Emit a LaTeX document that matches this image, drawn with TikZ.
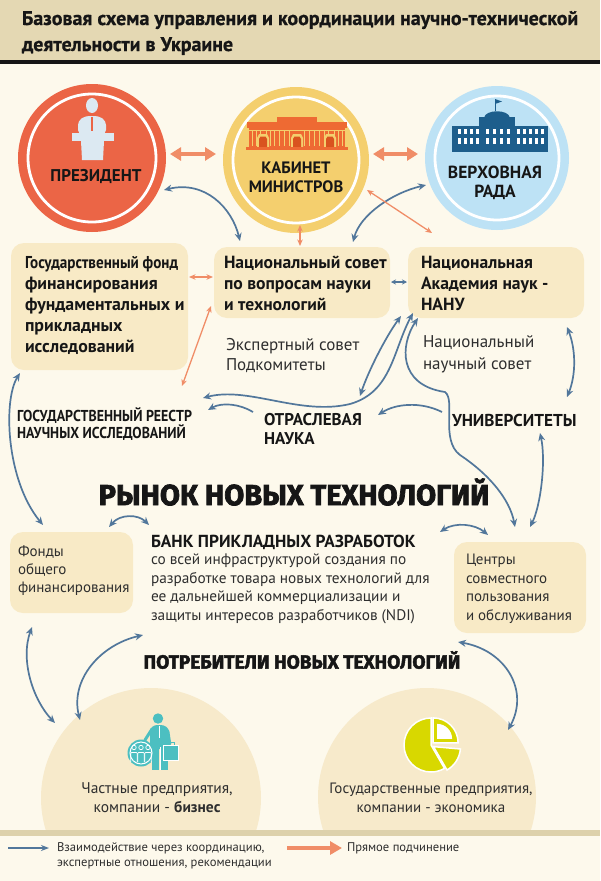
\documentclass[tikz,border=0pt]{standalone}
\usepackage{fontspec}
\setmainfont{PT Sans}
\newfontfamily\cond[FakeStretch=0.88]{PT Sans}
\newfontfamily\heavy[BoldFeatures={FakeBold=2.5}]{Fira Sans}
\newfontfamily\ptheavy[BoldFeatures={FakeBold=0.8}]{PT Sans}
\usetikzlibrary{arrows.meta}
\newcommand\myfs[2]{\fontsize{#1}{#2}\selectfont}
\definecolor{bg}{HTML}{FDF9EC}
\definecolor{hdr}{HTML}{E4D8B3}
\definecolor{boxc}{HTML}{F8EAC6}
\definecolor{pres}{HTML}{EB6546}
\definecolor{cab}{HTML}{F4CF6E}
\definecolor{rada}{HTML}{BDE2F5}
\definecolor{oarr}{HTML}{F08D67}
\definecolor{barr}{HTML}{52779B}
\definecolor{cabic}{HTML}{EE6A33}
\definecolor{cabdk}{HTML}{D9531F}
\definecolor{radic}{HTML}{1D5E8C}
\definecolor{presic}{HTML}{DCE9F2}
\definecolor{tealc}{HTML}{4CBFC1}
\definecolor{piec}{HTML}{D8D800}
\definecolor{botc}{HTML}{F7EACB}
\definecolor{barc}{HTML}{DDD1AB}
\definecolor{ink}{HTML}{161616}
\definecolor{gink}{HTML}{2E2E2E}
\begin{document}
\begin{tikzpicture}[x=1pt,y=-1pt,
  txt/.style={inner sep=0pt,outer sep=0pt,align=left,anchor=north west,text=ink},
  boxr/.style={fill=boxc,rounded corners=13pt},
  bl/.style={draw=barr,line width=1.7pt,arrows={Stealth[length=8pt,width=7pt]-Stealth[length=8pt,width=7pt]}},
  bls/.style={draw=barr,line width=1.3pt,arrows={Stealth[length=5pt,width=5pt]-Stealth[length=5pt,width=5pt]}},
  bl1/.style={draw=barr,line width=1.7pt,arrows={-Stealth[length=8pt,width=7pt]}},
  ot/.style={draw=oarr,line width=1.3pt,arrows={Stealth[length=6.5pt,width=5.5pt]-Stealth[length=6.5pt,width=5.5pt]}},
  ok/.style={draw=oarr,line width=4pt,arrows={Triangle[length=11pt,width=13pt]-Triangle[length=11pt,width=13pt]}},
  ok1/.style={draw=oarr,line width=3.8pt,arrows={-Triangle[length=12pt,width=13pt]}},
  ring/.style={draw=white,line width=2.8pt},
  clab/.style={inner sep=0pt,align=center,text=ink}
]
\useasboundingbox (0,0) rectangle (600,881);
\fill[bg] (0,0) rectangle (600,881);
% header
\fill[hdr] (0,0) rectangle (600,60);
\fill[ink] (0,60) rectangle (600,63.5);
\node[txt,font=\ptheavy\bfseries\myfs{19.9}{26}] (title) at (22,11) {Базовая схема управления и координации научно-технической\\деятельности в Украине};

% top circles
\node[circle,fill=pres,minimum size=148pt,inner sep=0pt] (pres) at (92,158) {};
\draw[ring] (pres.center) circle[radius=64];
\node[circle,fill=cab,minimum size=146pt,inner sep=0pt] (cab) at (296,160) {};
\draw[ring] (cab.center) circle[radius=63];
\node[circle,fill=rada,minimum size=144pt,inner sep=0pt] (rada) at (497,158) {};
\draw[ring] (rada.center) circle[radius=62];

% president icon
\fill[presic] (92,105.5) ellipse[x radius=6, y radius=7.5];
\fill[presic,rounded corners=4pt] (78,134) -- (78,121) -- (85,116) -- (99,116) -- (106,121) -- (106,134) -- cycle;
\draw[pres,line width=1.2pt] (92,117) -- (92,131);
\fill[presic] (72,133) rectangle (114,141);
\fill[presic] (81,141) -- (104,141) -- (103,160) -- (82,160) -- cycle;

% cabinet icon
\fill[cabic] (277,117) rectangle (317,123);
\fill[cabic] (247,122) rectangle (347,128);
\fill[cabic] (249,128) rectangle (345,148);
\foreach \xx in {252,256,260,266,270,274,279,284,289,304,309,314,319,324,328,334,338,342}{
  \draw[cab,line width=0.9pt] (\xx,130) -- (\xx,146);}
\foreach \xx in {263,297,330}{
  \fill[cab] (\xx-6,148) -- (\xx-6,138) -- (\xx-4,134) -- (\xx+4,134) -- (\xx+6,138) -- (\xx+6,148) -- cycle;
  \fill[cabdk] (\xx-4,148) -- (\xx-4,139) -- (\xx-2.5,136.5) -- (\xx+2.5,136.5) -- (\xx+4,139) -- (\xx+4,148) -- cycle;}
\draw[cab,line width=0.8pt] (249,130) -- (345,130);
\fill[cabic] (246,147) rectangle (348,149.5);

% rada icon
\fill[radic] (452,126) rectangle (548,152);
\fill[radic] (479,117) rectangle (515,126);
\fill[radic] (484,118) .. controls (485,109) and (509,109) .. (510,118) -- cycle;
\draw[radic,line width=0.9pt] (495,111) -- (495,99);
\fill[radic] (495,99) -- (502,101.5) -- (495,104) -- cycle;
\foreach \xx in {458,464,470,476,486,493,500,507,517,523,529,535,541}{
  \fill[white] (\xx,129) rectangle ++(2.6,5);
  \fill[white] (\xx,138) rectangle ++(2.6,5.5);}

% circle labels
\node[clab,font=\bfseries\myfs{17}{19}] (presl) at (96,177) {ПРЕЗИДЕНТ};
\node[clab,font=\bfseries\myfs{16.5}{19}] (cabl) at (296,177) {КАБИНЕТ\\МИНИСТРОВ};
\node[clab,font=\bfseries\myfs{17.5}{19}] (radal) at (495,183) {ВЕРХОВНАЯ\\РАДА};

% boxes
\fill[boxr] (11,243) rectangle (188,370);
\fill[boxr] (214,247) rectangle (390,318);
\fill[boxr] (408,247) rectangle (584,318);
\fill[boxr] (10,532) rectangle (133,613);
\fill[boxr] (454,542) rectangle (586,633);

\node[txt,font=\bfseries\myfs{17.8}{21}] (fond) at (25,256) {{\cond\myfs{17.2}{21}Государственный фонд}\\финансирования\\фундаментальных и\\прикладных\\исследований};
\node[txt,font=\bfseries\myfs{17.6}{21}] (nsov) at (224,256) {Национальный совет\\по вопросам науки\\и технологий};
\node[txt,font=\bfseries\myfs{17.6}{21}] (nanu) at (421,256) {Национальная\\Академия наук -\\НАНУ};
\node[txt,text=gink,font=\myfs{17}{20}] (eksp) at (226,338) {Экспертный совет\\Подкомитеты};
\node[txt,text=gink,font=\myfs{17}{21.5}] (nnsov) at (423,336) {Национальный\\научный совет};
\node[txt,font=\cond\bfseries\myfs{15.8}{17.5}] (reestr) at (17,407.5) {ГОСУДАРСТВЕННЫЙ РЕЕСТР\\НАУЧНЫХ ИССЛЕДОВАНИЙ};
\node[txt,font=\bfseries\myfs{17}{18.5}] (otr) at (264,413.5) {ОТРАСЛЕВАЯ\\НАУКА};
\node[txt,anchor=west,font=\bfseries\myfs{17.2}{18}] (univ) at (452,420) {УНИВЕРСИТЕТЫ};

\node[inner sep=0pt,text=ink,font=\heavy\bfseries\myfs{29}{30}] (rynok) at (294,492) {РЫНОК НОВЫХ ТЕХНОЛОГИЙ};
\node[txt,anchor=west,font=\bfseries\myfs{17.4}{20}] (bank) at (151,542) {БАНК ПРИКЛАДНЫХ РАЗРАБОТОК};
\node[txt,text=gink,font=\myfs{15.3}{18.5}] (bankt) at (151,554) {со всей инфраструктурой создания по\\разработке товара новых технологий для\\ее дальнейшей коммерциализации и\\защиты интересов разработчиков (NDI)};
\node[txt,text=gink,font=\myfs{15}{18}] (fondy) at (18,546) {Фонды\\общего\\финансирования};
\node[txt,text=gink,font=\myfs{15}{18.5}] (centr) at (466,554) {Центры\\совместного\\пользования\\и обслуживания};
\node[inner sep=0pt,text=ink,font=\heavy\bfseries\myfs{19}{20}] (potr) at (302,660) {ПОТРЕБИТЕЛИ НОВЫХ ТЕХНОЛОГИЙ};

% bottom circles
\begin{scope}
\clip (0,0) rectangle (600,831);
\node[circle,fill=botc,minimum size=220pt,inner sep=0pt] (priv) at (151,798) {};
\node[circle,fill=botc,minimum size=218pt,inner sep=0pt] (gosp) at (427,797) {};
\end{scope}
\fill[barc] (0,830) rectangle (600,836);

% businessman icon
\fill[tealc] (158,718.5) circle[radius=5.2];
\fill[tealc,rounded corners=3pt] (150,749) -- (150,729) -- (154,725) -- (164,725) -- (169,729) -- (170,749) -- cycle;
\fill[tealc] (152,747) rectangle (159,770);
\fill[tealc] (161,747) rectangle (168,770);
\draw[white,line width=0.7pt] (160,747) -- (160,770);
\draw[white,line width=0.8pt] (159.5,726) -- (159.5,738);
\draw[tealc,line width=3pt,line cap=round] (152,729) -- (145,740);
\draw[tealc,line width=2.6pt,line cap=round] (168,731) -- (170,744);
\fill[tealc] (163,745) rectangle (178.5,760.5);
\draw[white,line width=0.7pt] (163.6,745.6) rectangle (177.9,759.9);
\draw[tealc,line width=1pt] (168,745) -- (168,742) -- (174,742) -- (174,745);
\fill[tealc] (141,753) circle[radius=13.5];
\draw[white,line width=1pt] (141,753) circle[radius=11];
\foreach \px in {134,141,148}{
  \draw[white,line width=0.7pt] (\px,747.5) circle[radius=2.2];
  \draw[white,line width=0.7pt,rounded corners=1pt] (\px-3.3,762) -- (\px-3.3,752.5) -- (\px+3.3,752.5) -- (\px+3.3,762);}

% pie icon
\begin{scope}[shift={(431,745)},y=1pt]
  \filldraw[fill=piec,draw=white,line width=1.5pt] (0,0) -- (90:27) arc[start angle=90,end angle=300,radius=27] -- cycle;
  \begin{scope}[shift={(327:3)}]
    \filldraw[fill=piec,draw=white,line width=1.5pt] (0,0) -- (300:27) arc[start angle=300,end angle=355,radius=27] -- cycle;
  \end{scope}
  \begin{scope}[shift={(45:3)}]
    \filldraw[fill=piec,draw=white,line width=1.5pt] (0,0) -- (0:25) arc[start angle=0,end angle=90,radius=25] -- cycle;
    \fill[white] (4,4) -- ++(0:15) arc[start angle=0,end angle=90,radius=15] -- cycle;
  \end{scope}
\end{scope}

\node[inner sep=0pt,align=center,text=gink,font=\myfs{15.5}{19}] (privt) at (157,797.5) {Частные предприятия,\\компании - \textbf{бизнес}};
\node[inner sep=0pt,align=center,text=gink,font=\myfs{15}{19}] (gospt) at (431,797.5) {Государственные предприятия,\\компании - экономика};

% legend
\coordinate (l1) at (8,848); \coordinate (l2) at (49,848);
\coordinate (l3) at (287,848); \coordinate (l4) at (342,848);
\draw[draw=barr,line width=1.6pt,arrows={-Stealth[length=8pt,width=6pt]}] (l1) -- (l2);
\draw[ok1] (l3) -- (l4);
\node[txt,text=gink,font=\myfs{12.6}{15}] (leg1) at (57,843) {Взаимодействие через координацию,\\экспертные отношения, рекомендации};
\node[txt,anchor=west,text=gink,font=\myfs{12.6}{15}] (leg2) at (347,848) {Прямое подчинение};

% connector end points
\coordinate (pR) at (170,154); \coordinate (cL) at (216,154);
\coordinate (cR) at (373,154); \coordinate (rL) at (418,154);
\coordinate (p1) at (164,190); \coordinate (n1) at (240,241);
\coordinate (r1) at (426,185); \coordinate (n2) at (353,242);
\coordinate (c1) at (367,190); \coordinate (a1) at (432,233);
\coordinate (c2) at (300,225); \coordinate (n3) at (300,246);
\coordinate (f1) at (189,277); \coordinate (n4) at (213,277);
\coordinate (n5) at (391,282); \coordinate (a2) at (407,282);
\coordinate (n6) at (211,306); \coordinate (g1) at (182,386);
\coordinate (a3) at (401,316); \coordinate (o1) at (360,396);
\coordinate (a4) at (413,313); \coordinate (g2) at (203,398);
\coordinate (a5) at (418,318); \coordinate (z1) at (515,527);
\coordinate (a6) at (567,327); \coordinate (u1) at (567,397);
\coordinate (u2) at (442,412); \coordinate (o2) at (378,415);
\coordinate (o3) at (253,412); \coordinate (g3) at (208,410);
\coordinate (u3) at (540,433); \coordinate (z2) at (530,527);
\coordinate (f2) at (20,373); \coordinate (q1) at (43,525);
\coordinate (q2) at (109,527); \coordinate (k1) at (149,525);
\coordinate (k2) at (440,532); \coordinate (z3) at (488,535);
\coordinate (q3) at (32,627); \coordinate (b1) at (55,723);
\coordinate (k3) at (143,635); \coordinate (b2) at (80,720);
\coordinate (z4) at (458,642); \coordinate (b3) at (508,730);

% connectors
\draw[ok] (pR) -- (cL);
\draw[ok] (cR) -- (rL);
\draw[bl] (p1) .. controls (205,180) and (232,208) .. (n1);
\draw[bl] (r1) .. controls (392,193) and (360,215) .. (n2);
\draw[ot] (c1) -- (a1);
\draw[ot] (c2) -- (n3);
\draw[ot] (f1) -- (n4);
\draw[bls] (n5) -- (a2);
\draw[ot] (n6) -- (g1);
\draw[bl] (a3) .. controls (385,338) and (368,372) .. (o1);
\draw[bl] (a4) .. controls (393,350) and (392,392) .. (350,404) .. controls (300,416) and (248,386) .. (g2);
\draw[bl] (a5) .. controls (400,345) and (398,385) .. (445,392) .. controls (456,400) and (440,440) .. (460,455) .. controls (490,475) and (510,500) .. (z1);
\draw[bl] (a6) .. controls (576,350) and (576,375) .. (u1);
\draw[bl1] (u2) .. controls (420,401) and (395,404) .. (o2);
\draw[bl1] (o3) .. controls (240,404) and (222,402) .. (g3);
\draw[bl] (u3) .. controls (546,460) and (541,505) .. (z2);
\draw[bl] (f2) .. controls (3,400) and (6,480) .. (q1);
\draw[bl] (q2) .. controls (120,514) and (138,514) .. (k1);
\draw[bl] (k2) .. controls (455,522) and (475,524) .. (z3);
\draw[bl] (q3) .. controls (20,660) and (33,700) .. (b1);
\draw[bl] (k3) .. controls (100,645) and (70,680) .. (b2);
\draw[bl] (z4) .. controls (505,650) and (530,690) .. (b3);
\end{tikzpicture}
\end{document}
